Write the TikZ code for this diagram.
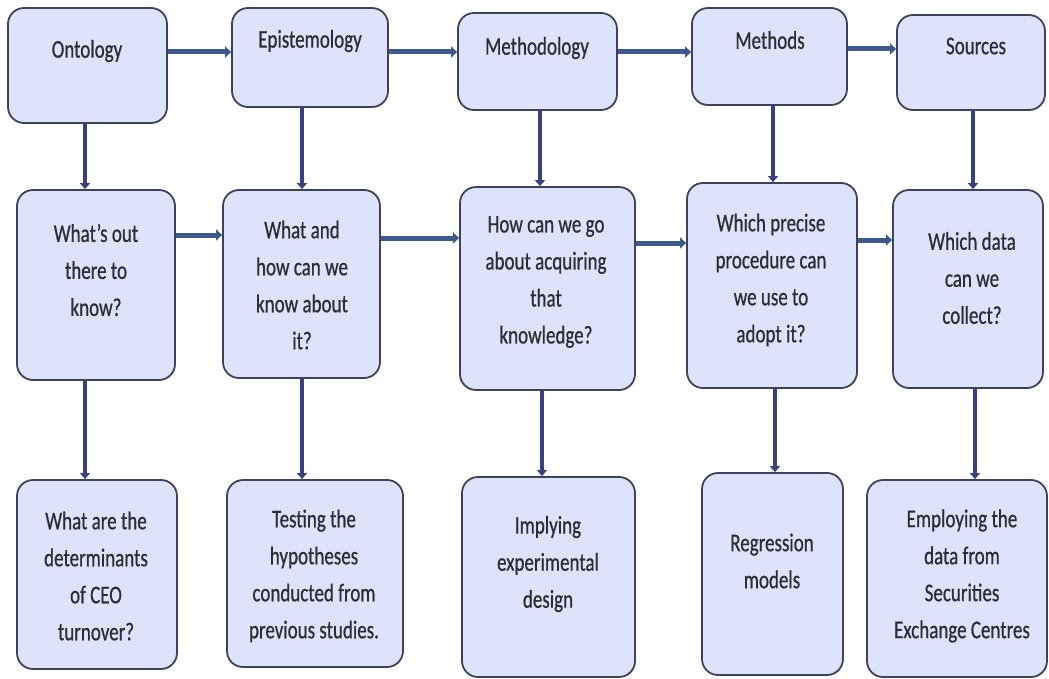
\documentclass[tikz,border=0pt]{standalone}
\usepackage{fontspec}
\setmainfont{Carlito}[FakeStretch=0.745, FakeBold=0.6]
\usetikzlibrary{arrows.meta}

\definecolor{boxfill}{RGB}{222,226,250}
\definecolor{boxline}{RGB}{62,66,92}
\definecolor{hflow}{RGB}{62,90,140}
\definecolor{vflow}{RGB}{60,64,128}
\definecolor{ink}{RGB}{44,44,50}

% \panel{name}{x1}{y1}{x2}{y2}: a rounded box spanning the given corners
\newcommand{\panel}[5]{%
  \node[panelbox, minimum width={#4-#2}, minimum height={#5-#3}]
    (#1) at ({(#2+#4)/2},{(#3+#5)/2}) {};}

\tikzset{
  panelbox/.style={draw=boxline, line width=1.8pt, fill=boxfill,
    rounded corners=16pt, inner sep=0pt, shape=rectangle},
  paneltext/.style={font=\fontsize{25.5}{37}\selectfont, align=center,
    text=ink, inner sep=0pt},
  flowh/.style={draw=hflow, line width=5pt,
    -{Triangle[width=11pt,length=6pt]}},
  flowv/.style={draw=vflow, line width=3.6pt,
    -{Triangle[width=10pt,length=6pt]}}
}

\begin{document}
\begin{tikzpicture}[x=1pt, y=-1pt]
  \fill[white] (0,0) rectangle (1049,679);
  \useasboundingbox (0,0) rectangle (1049,679);

  % top row: the five stages
  \panel{ont}{8}{8}{167}{123}
  \panel{epi}{232}{8}{388}{107}
  \panel{mth}{458}{13}{617}{110}
  \panel{mtd}{692}{8}{847}{105}
  \panel{src}{897}{15}{1045}{110}

  % middle row: guiding questions
  \panel{q1}{17}{190}{175}{380}
  \panel{q2}{223}{190}{380}{378}
  \panel{q3}{460}{187}{635}{390}
  \panel{q4}{687}{183}{857}{388}
  \panel{q5}{893}{190}{1043}{388}

  % bottom row: answers for this study
  \panel{r1}{17}{480}{177}{669}
  \panel{r2}{227}{480}{403}{667}
  \panel{r3}{462}{477}{635}{677}
  \panel{r4}{702}{473}{843}{675}
  \panel{r5}{867}{480}{1047}{677}

  % labels
  \node[paneltext] (ont-t) at (87,51) {Ontology};
  \node[paneltext] (epi-t) at (310,41) {Epistemology};
  \node[paneltext] (mth-t) at (537,48) {Methodology};
  \node[paneltext] (mtd-t) at (770,40) {Methods};
  \node[paneltext] (src-t) at (976,46) {Sources};

  \node[paneltext] (q1-t) at (96,270) {What’s out\\there to\\know?};
  \node[paneltext] (q2-t) at (302,285) {What and\\how can we\\know about\\it?};
  \node[paneltext] (q3-t) at (546,282) {How can we go\\about acquiring\\that\\knowledge?};
  \node[paneltext] (q4-t) at (771,280) {Which precise\\procedure can\\we use to\\adopt it?};
  \node[paneltext] (q5-t) at (972,278) {Which data\\can we\\collect?};

  \node[paneltext] (r1-t) at (96,576) {What are the\\determinants\\of CEO\\turnover?};
  \node[paneltext] (r2-t) at (314,576) {Testing the\\hypotheses\\conducted from\\previous studies.};
  \node[paneltext] (r3-t) at (548,564) {Implying\\experimental\\design};
  \node[paneltext] (r4-t) at (772,561) {Regression\\models};
  \node[paneltext] (r5-t) at (962,576) {Employing the\\data from\\Securities\\Exchange Centres};

  % horizontal flow, top row
  \draw[flowh] (ont.east |- 0,52) -- (epi.west |- 0,52);
  \draw[flowh] (epi.east |- 0,52) -- (mth.west |- 0,52);
  \draw[flowh] (mth.east |- 0,52) -- (mtd.west |- 0,52);
  \draw[flowh] (mtd.east |- 0,49) -- (src.west |- 0,49);

  % horizontal flow, middle row
  \draw[flowh] (q1.east |- 0,235) -- (q2.west |- 0,235);
  \draw[flowh] (q2.east |- 0,238) -- (q3.west |- 0,238);
  \draw[flowh] (q3.east |- 0,243) -- (q4.west |- 0,243);
  \draw[flowh] (q4.east |- 0,240) -- (q5.west |- 0,240);

  % vertical flow, top to middle
  \draw[flowv] (ont.south -| 85,0) -- (q1.north -| 85,0);
  \draw[flowv] (epi.south -| 302,0) -- (q2.north -| 302,0);
  \draw[flowv] (mth.south -| 540,0) -- (q3.north -| 540,0);
  \draw[flowv] (mtd.south -| 773,0) -- (q4.north -| 773,0);
  \draw[flowv] (src.south -| 973,0) -- (q5.north -| 973,0);

  % vertical flow, middle to bottom
  \draw[flowv] (q1.south -| 85,0) -- (r1.north -| 85,0);
  \draw[flowv] (q2.south -| 302,0) -- (r2.north -| 302,0);
  \draw[flowv] (q3.south -| 542,0) -- (r3.north -| 542,0);
  \draw[flowv] (q4.south -| 775,0) -- (r4.north -| 775,0);
  \draw[flowv] (q5.south -| 975,0) -- (r5.north -| 975,0);
\end{tikzpicture}
\end{document}
